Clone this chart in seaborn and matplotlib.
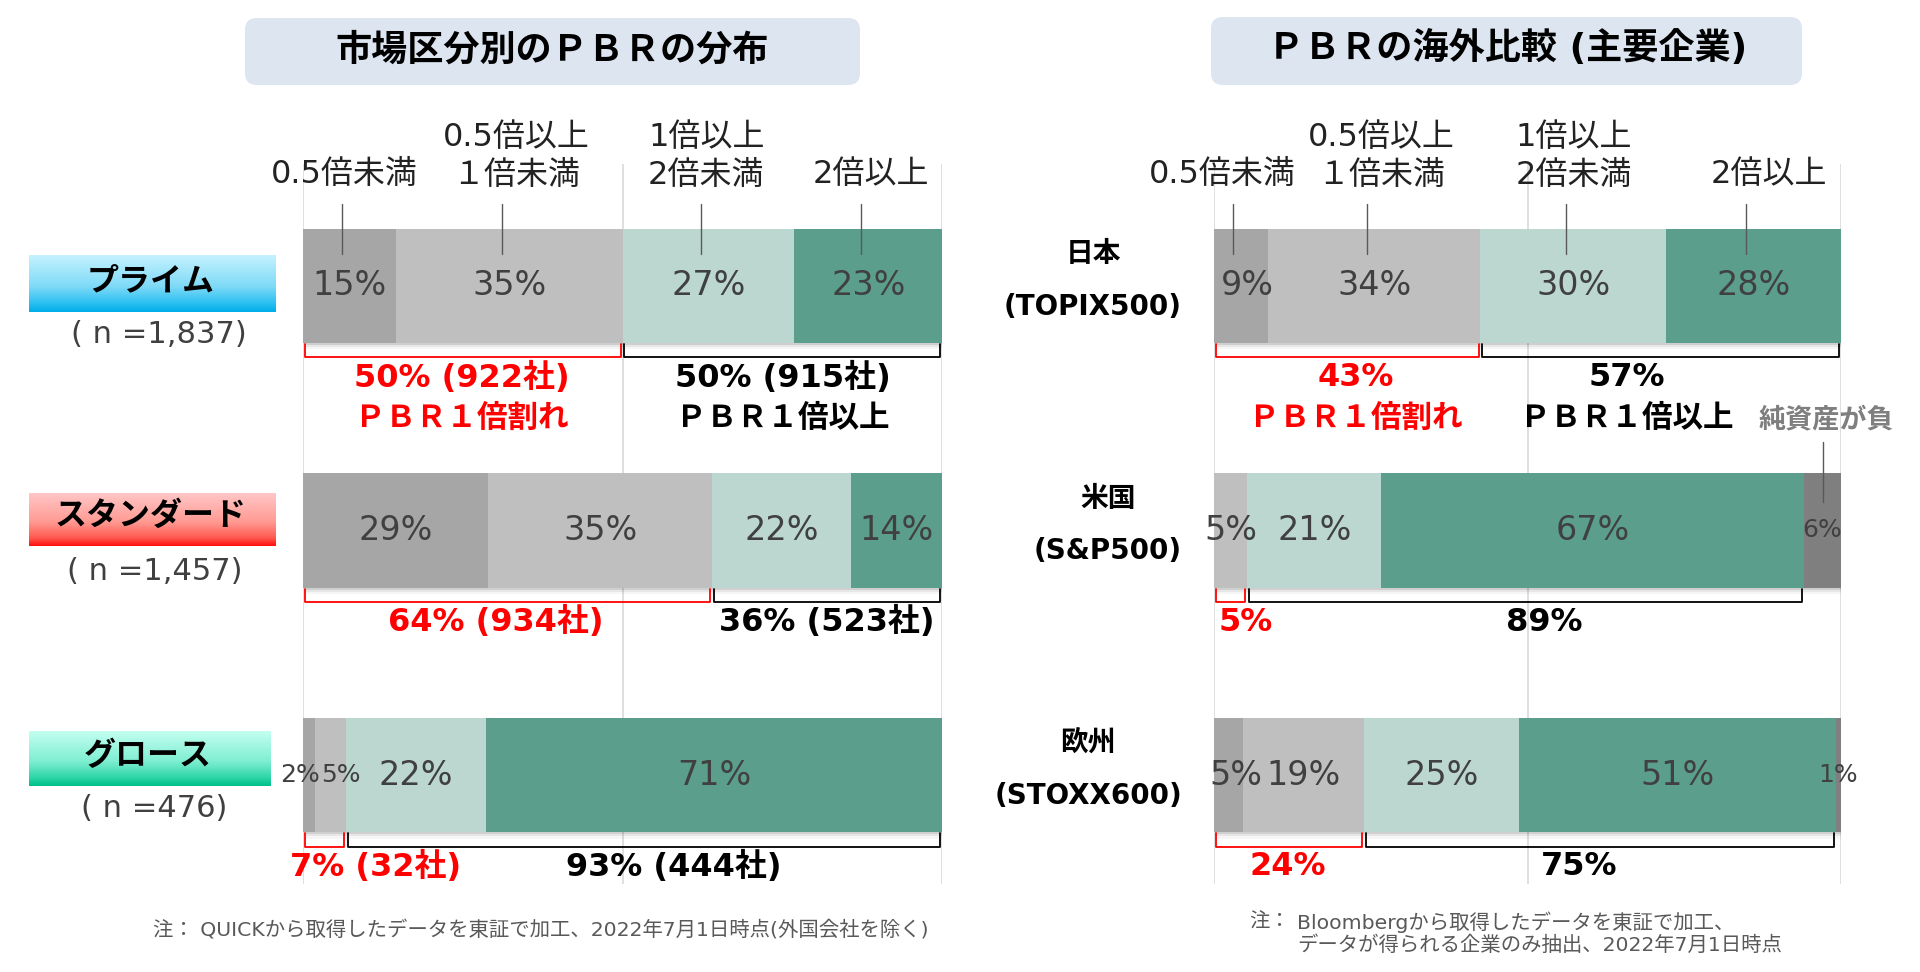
import numpy as np
import pandas as pd
import matplotlib
matplotlib.use("Agg")
import matplotlib.pyplot as plt
import matplotlib.patheffects as pe
from matplotlib.colors import LinearSegmentedColormap
from matplotlib.patches import FancyBboxPatch
import seaborn as sns

# ---- data ----
band_labels = [["0.5倍未満"], ["0.5倍以上", "１倍未満"], ["1倍以上", "2倍未満"], ["2倍以上"]]

market_names = ["プライム", "スタンダード", "グロース"]
market_n = [1837, 1457, 476]
market_lt05 = [14.6, 29.0, 1.9]
market_05_1 = [35.4, 35.0, 4.8]
market_1_2 = [26.9, 21.8, 22.0]
market_ge2 = [23.1, 14.2, 71.3]
market_below_pct = [50, 64, 7]
market_below_cnt = [922, 934, 32]
market_above_pct = [50, 36, 93]
market_above_cnt = [915, 523, 444]

country_names = ["日本", "米国", "欧州"]
country_index = ["(TOPIX500)", "(S&P500)", "(STOXX600)"]
country_lt05 = [8.6, 0.0, 4.6]
country_05_1 = [33.9, 5.3, 19.3]
country_1_2 = [29.6, 21.4, 24.7]
country_ge2 = [27.9, 67.4, 50.6]
country_neg = [0.0, 5.9, 0.8]
country_below_pct = [43, 5, 24]
country_above_pct = [57, 89, 75]

# ---- style ----
SEG_COLORS = ["#a6a6a6", "#bfbfbf", "#bbd7d0", "#5b9e8b", "#7f7f7f"]
BAR_H = 0.467
W, H = 1920, 972

sns.set_style("white")
plt.rcParams["font.family"] = ["DejaVu Sans", "Noto Sans CJK JP"]

fig = plt.figure(figsize=(W / 100, H / 100), dpi=100)
bg = fig.add_axes([0, 0, 1, 1])


def px_axes(x0, x1, y0, y1):
    return fig.add_axes([x0 / W, (H - y1) / H, (x1 - x0) / W, (y1 - y0) / H])


ax_l = px_axes(303, 942, 164, 884)
ax_r = px_axes(1214, 1841, 164, 884)

# soft drop shadow under each bar
shadow = [pe.SimplePatchShadow(offset=(0.5, -1.5), shadow_rgbFace="k", alpha=0.10),
          pe.SimplePatchShadow(offset=(1.0, -3.0), shadow_rgbFace="k", alpha=0.06),
          pe.SimplePatchShadow(offset=(1.5, -4.5), shadow_rgbFace="k", alpha=0.035),
          pe.Normal()]


def stacked(ax, names, segs):
    vals = np.array(segs, dtype=float)
    ends = vals.cumsum(axis=0)
    starts = ends - vals
    for i in range(len(segs) - 1, -1, -1):
        frame = pd.DataFrame({"name": names, "end": ends[i]})
        n0 = len(ax.patches)
        sns.barplot(data=frame, x="end", y="name", orient="h", color=SEG_COLORS[i],
                    saturation=1, width=BAR_H, linewidth=0, errorbar=None, ax=ax)
        if i == len(segs) - 1:
            for p in ax.patches[n0:]:
                p.set_path_effects(shadow)
    ax.set_xlim(0, 100)
    ax.set_ylim(2.445, -0.498)
    ax.set_axis_off()
    for g in (0, 50, 100):
        ax.axvline(g, color="#d9d9d9", lw=1.2, zorder=0)
    return starts, vals


def seg_labels(ax, starts, vals, small, shifts):
    for j in range(vals.shape[1]):
        for i in range(vals.shape[0]):
            v = vals[i, j]
            if v <= 0:
                continue
            x = starts[i, j] + v / 2 + shifts.get((j, i), 0)
            ax.text(x, j, f"{v:.0f}%", ha="center", va="center",
                    fontsize=18 if (j, i) in small else 24, color="#404040", zorder=5)


def headers(ax, starts, vals, label_x):
    for k, lines in enumerate(band_labels):
        ys = [-0.608, -0.453] if len(lines) == 2 else [-0.455]
        for line, y in zip(lines, ys):
            ax.text(label_x[k], y, line, ha="center", va="center", fontsize=23,
                    color="#222222", clip_on=False)
        cx = starts[k, 0] + vals[k, 0] / 2 - 1.2
        ax.plot([cx, cx], [-0.335, -0.13], color="#595959", lw=1, zorder=6, clip_on=False)


def bracket(ax, x0, x1, j, color):
    yt, yb = j + BAR_H / 2 + 0.004, j + 0.292
    ax.plot([x0, x0, x1, x1], [yt, yb, yb, yt], color=color, lw=1.3, clip_on=False, zorder=4)


def brackets(ax, starts, vals, red_texts, black_texts, red_x, black_x):
    for j in range(vals.shape[1]):
        below = starts[2, j]
        above = starts[2, j] + vals[2, j] + vals[3, j]
        bracket(ax, 0.3, below - 0.3, j, "#ff0000")
        bracket(ax, below + 0.3, above - 0.3, j, "#000000")
        for texts, xs, col in ((red_texts, red_x, "#ff0000"), (black_texts, black_x, "#000000")):
            for k, t in enumerate(texts[j]):
                ax.text(xs[j], j + 0.375 + 0.167 * k, t, ha="center", va="center",
                        fontsize=23 if k == 0 else 22, fontweight="bold", color=col,
                        clip_on=False)


# ---- left panel: market segments ----
starts_l, vals_l = stacked(ax_l, market_names, [market_lt05, market_05_1, market_1_2, market_ge2])
seg_labels(ax_l, starts_l, vals_l, small={(2, 0), (2, 1)}, shifts={(2, 0): -1.45, (2, 1): 1.6})
headers(ax_l, starts_l, vals_l, [6.4, 33.4, 63.1, 88.9])
red_l = [[f"{p}% ({c}社)"] for p, c in zip(market_below_pct, market_below_cnt)]
black_l = [[f"{p}% ({c}社)"] for p, c in zip(market_above_pct, market_above_cnt)]
red_l[0].append("ＰＢＲ１倍割れ")
black_l[0].append("ＰＢＲ１倍以上")
brackets(ax_l, starts_l, vals_l, red_l, black_l, [24.8, 30.1, 11.3], [75.1, 81.9, 58.0])

# ---- right panel: international comparison ----
starts_r, vals_r = stacked(ax_r, country_names,
                           [country_lt05, country_05_1, country_1_2, country_ge2, country_neg])
seg_labels(ax_r, starts_r, vals_r, small={(1, 4), (2, 4)}, shifts={(0, 0): 1.0, (2, 0): 1.2, (2, 4): -0.1})
headers(ax_r, starts_r, vals_r, [1.4, 26.7, 57.4, 88.5])
red_r = [[f"{p}%"] for p in country_below_pct]
black_r = [[f"{p}%"] for p in country_above_pct]
red_r[0].append("ＰＢＲ１倍割れ")
black_r[0].append("ＰＢＲ１倍以上")
brackets(ax_r, starts_r, vals_r, red_r, black_r, [22.6, 5.1, 11.8], [65.8, 52.6, 58.2])

neg_x = starts_r[4, 1] + vals_r[4, 1] / 2
ax_r.text(97.6, 1 - 0.45, "純資産が負", ha="center", va="center", fontsize=19.5,
          fontweight="bold", color="#7f7f7f", clip_on=False)
ax_r.plot([neg_x, neg_x], [1 - 0.36, 1 - 0.118], color="#595959", lw=1, zorder=6, clip_on=False)

for j, (nm, idx) in enumerate(zip(country_names, country_index)):
    t = ax_r.text(-5.1, j + 0.085, idx, ha="right", va="center", fontsize=20,
                  fontweight="bold", color="#000000", clip_on=False)
    ax_r.annotate(nm, xy=(0.5, 0.5), xycoords=t, xytext=(0, 38), textcoords="offset points",
                  ha="center", va="center", fontsize=20, fontweight="bold", color="#000000")

# ---- background layer: titles, category boxes, notes ----
for (x0, y0, w, h), title, tx, ty in (((245, 18, 615, 67), "市場区分別のＰＢＲの分布", 552, 50),
                                      ((1211, 17, 591, 68), "ＰＢＲの海外比較 (主要企業)", 1508, 48)):
    bg.add_patch(FancyBboxPatch((x0, y0), w, h, boxstyle="round,pad=0,rounding_size=12",
                                fc="#dce5f0", ec="none"))
    bg.text(tx, ty, title, ha="center", va="center", fontsize=26, fontweight="bold", color="#000000")

box_maps = [["#c4f2ff", "#7fdaf7", "#2cc0f2", "#00aee9"],
            ["#ffc6c6", "#ff9a92", "#ff5a50", "#ff1010"],
            ["#c2fff0", "#7feed2", "#2fd6a8", "#00c08a"]]
box_geom = [(29, 276, 255, 312), (29, 276, 493, 546), (29, 271, 732, 786)]
box_text_y = [282, 516, 756]
n_pos = [(159, 334), (155, 571), (154, 808)]
grad = np.linspace(0, 1, 64).reshape(-1, 1)
for k, (x0, x1, y0, y1) in enumerate(box_geom):
    cmap = LinearSegmentedColormap.from_list(f"box{k}", list(zip([0, 0.55, 0.85, 1], box_maps[k])))
    bg.imshow(grad, cmap=cmap, extent=(x0, x1, y1, y0), aspect="auto", origin="upper",
              interpolation="bilinear")
    bg.text((x0 + x1) / 2 - 2, box_text_y[k], market_names[k], ha="center", va="center",
            fontsize=23, fontweight="bold", color="#000000")
    bg.text(n_pos[k][0], n_pos[k][1], f"( n ={market_n[k]:,})", ha="center", va="center",
            fontsize=22, color="#404040")

note_kw = dict(ha="left", va="center", fontsize=14.7, color="#595959")
bg.text(153, 930, "注： QUICKから取得したデータを東証で加工、2022年7月1日時点(外国会社を除く)", **note_kw)
bg.text(1249, 922, "注：", **note_kw)
bg.text(1297, 922, "Bloombergから取得したデータを東証で加工、", **note_kw)
bg.text(1297, 945, "データが得られる企業のみ抽出、2022年7月1日時点", **note_kw)

bg.set_xlim(0, W)
bg.set_ylim(H, 0)
bg.set_axis_off()

fig.savefig("out.png", dpi=100)
